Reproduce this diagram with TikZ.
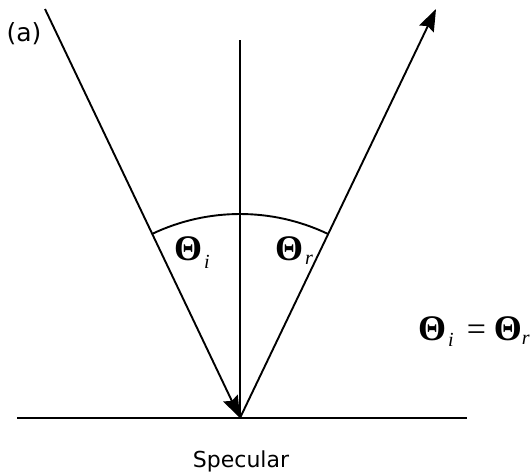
\documentclass[tikz,border=0pt]{standalone}
\usepackage{fontspec}
\setmainfont{DejaVu Sans}
\newfontfamily\tms{Liberation Serif}
\usetikzlibrary{arrows.meta}
\newcommand{\thsub}[3][-8pt]{{\tms\bfseries\fontsize{36}{36}\selectfont Θ}\hspace{#2}\raisebox{#1}{\tms\itshape\fontsize{20}{20}\selectfont #3}}
\begin{document}
\begin{tikzpicture}[x=1pt,y=-1pt,
  ray/.style={line width=1.9pt,-{Stealth[length=22pt,width=16pt,inset=3pt]}},
  plain/.style={line width=1.9pt},
  lbl/.style={inner sep=0pt}]
\useasboundingbox (0,0) rectangle (532,474);
\coordinate (src) at (45,9);
\coordinate (hit) at (240,418);
\coordinate (dst) at (436,9);
\coordinate (ntop) at (240,40);
\coordinate (gl) at (17,418);
\coordinate (gr) at (467,418);
\draw[plain] (gl) -- (gr);
\draw[plain] (ntop) -- (hit);
\draw[ray] (src) -- (hit);
\draw[ray] (hit) -- (dst);
\draw[plain] (hit) ++(115.5:204pt) arc[start angle=115.5, end angle=64.5, radius=204pt];
\node[lbl,font=\fontsize{25}{25}\selectfont] (a) at (24,34) {(a)};
\node[lbl,font=\fontsize{22}{22}\selectfont,anchor=base] (spec) at (241,467) {Specular};
\node[lbl,anchor=base west] (ti) at (174,260) {\thsub{2pt}{i}};
\node[lbl,anchor=base west] (tr) at (275,260) {\thsub[-4pt]{2pt}{r}};
\node[lbl,anchor=base west] (eq) at (418,340) {\thsub[-6pt]{2pt}{i}\hspace{13pt}{\tms\fontsize{34}{34}\selectfont =}\hspace{8pt}\thsub[-4pt]{0pt}{r}};
\end{tikzpicture}
\end{document}
